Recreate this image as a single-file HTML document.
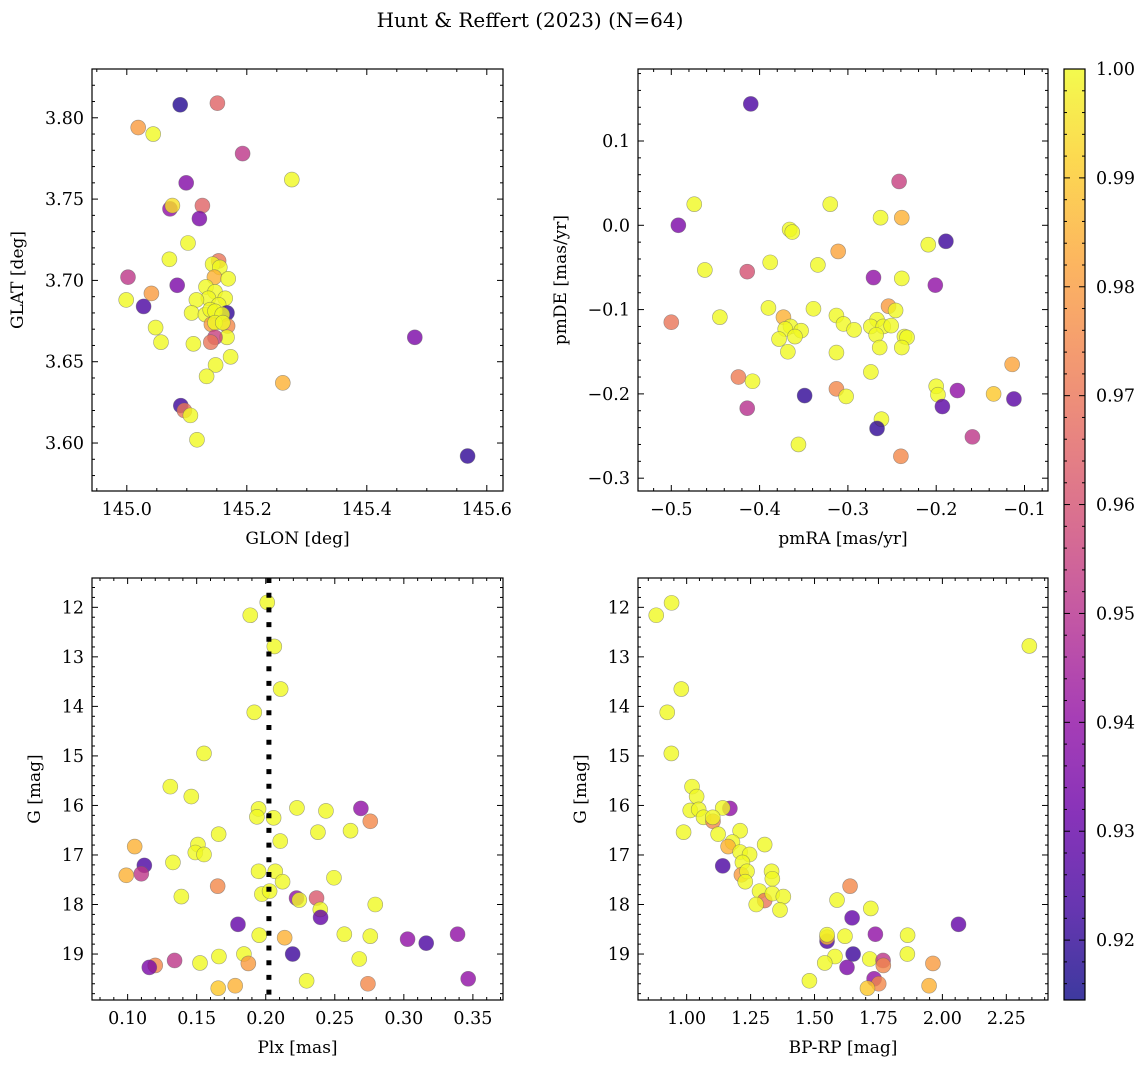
<!DOCTYPE html>
<html><head><meta charset="utf-8">
<style>
html,body{margin:0;padding:0;background:#fff;}
svg{display:block;font-family:"DejaVu Serif","Liberation Serif",serif;}
</style></head>
<body>
<svg id="fig" width="1148" height="1068" xmlns="http://www.w3.org/2000/svg">
<rect width="1148" height="1068" fill="#fff"/>
<text x="530" y="27" font-size="20" text-anchor="middle">Hunt &amp; Reffert (2023) (N=64)</text>
</svg>
<script>
// ---- data: panel 1 (GLON vs GLAT)
const glon=[145.089,145.151,145.019,145.044,145.193,145.275,145.099,145.072,145.076,145.126,145.121,145.102,145.071,145.153,145.143,145.155,145.146,145.169,145.002,145.084,145.041,144.999,145.132,145.147,145.136,145.164,145.116,145.153,145.028,145.167,145.108,145.131,145.139,145.147,145.159,145.141,145.168,145.147,145.160,145.048,145.167,145.147,145.140,145.057,145.111,145.173,145.148,145.133,145.260,145.090,145.096,145.106,145.117,145.480,145.568];
const glat=[3.808,3.809,3.794,3.790,3.778,3.762,3.760,3.744,3.746,3.746,3.738,3.723,3.713,3.712,3.710,3.708,3.702,3.701,3.702,3.697,3.692,3.688,3.696,3.693,3.689,3.689,3.688,3.685,3.684,3.680,3.680,3.679,3.682,3.681,3.679,3.673,3.672,3.674,3.674,3.671,3.665,3.665,3.662,3.662,3.661,3.653,3.648,3.641,3.637,3.623,3.620,3.617,3.602,3.665,3.592];
const probA=[0.918,0.965,0.98,1,0.952,1,0.937,0.94,0.995,0.965,0.935,1,1,0.97,1,1,0.985,1,0.952,0.935,0.98,1,1,1,1,1,1,1,0.925,0.92,1,1,1,1,1,0.98,0.975,1,1,1,1,0.955,0.97,1,1,1,1,1,0.985,0.922,0.97,1,1,0.935,0.92];
// ---- panel 2 (pmRA vs pmDE)
const pmra=[-0.410,-0.242,-0.474,-0.320,-0.263,-0.239,-0.492,-0.366,-0.363,-0.209,-0.189,-0.311,-0.388,-0.334,-0.462,-0.414,-0.271,-0.239,-0.201,-0.254,-0.246,-0.390,-0.339,-0.373,-0.445,-0.500,-0.313,-0.305,-0.293,-0.267,-0.274,-0.260,-0.251,-0.365,-0.371,-0.353,-0.360,-0.268,-0.236,-0.233,-0.378,-0.264,-0.239,-0.368,-0.313,-0.274,-0.114,-0.424,-0.408,-0.200,-0.198,-0.313,-0.302,-0.349,-0.176,-0.135,-0.112,-0.193,-0.414,-0.262,-0.267,-0.159,-0.356,-0.240];
const pmde=[0.144,0.052,0.025,0.025,0.009,0.009,0.000,-0.005,-0.008,-0.023,-0.019,-0.031,-0.044,-0.047,-0.053,-0.055,-0.062,-0.063,-0.071,-0.096,-0.101,-0.098,-0.099,-0.109,-0.109,-0.115,-0.107,-0.117,-0.124,-0.112,-0.120,-0.120,-0.119,-0.120,-0.123,-0.125,-0.132,-0.130,-0.132,-0.133,-0.135,-0.145,-0.145,-0.150,-0.151,-0.174,-0.165,-0.180,-0.185,-0.191,-0.201,-0.194,-0.203,-0.202,-0.196,-0.200,-0.206,-0.215,-0.217,-0.230,-0.241,-0.251,-0.260,-0.274];
const probB=[0.925,0.955,1,1,1,0.985,0.935,1,1,1,0.922,0.982,1,1,1,0.96,0.94,1,0.94,0.98,1,1,1,0.985,1,0.97,1,1,1,1,1,1,1,1,1,1,1,1,1,1,1,1,1,1,1,1,0.982,0.972,1,1,1,0.975,1,0.92,0.94,0.99,0.928,0.928,0.95,1,0.92,0.952,1,0.975];
// ---- panel 3 (Plx vs G)
const plx=[0.2011,0.1888,0.2062,0.2108,0.1917,0.1553,0.1309,0.1461,0.2689,0.1948,0.2226,0.2436,0.1936,0.2057,0.2757,0.2378,0.2614,0.1659,0.1051,0.2105,0.1509,0.1490,0.1553,0.1121,0.1328,0.1099,0.0990,0.1948,0.2069,0.2122,0.2494,0.1652,0.1389,0.1972,0.2028,0.2223,0.2243,0.2368,0.2395,0.2397,0.2793,0.1799,0.1953,0.2137,0.2569,0.2757,0.3027,0.3162,0.3389,0.2195,0.1842,0.1661,0.2677,0.1340,0.1524,0.1874,0.1200,0.1157,0.3466,0.2296,0.2740,0.1779,0.1656];
const gmagC=[11.90,12.16,12.79,13.65,14.12,14.95,15.62,15.82,16.06,16.07,16.05,16.11,16.23,16.25,16.32,16.54,16.51,16.58,16.83,16.72,16.79,16.95,16.99,17.21,17.15,17.38,17.41,17.33,17.33,17.54,17.46,17.63,17.84,17.79,17.73,17.87,17.91,17.87,18.10,18.26,18.00,18.40,18.62,18.67,18.60,18.64,18.70,18.78,18.60,19.00,19.00,19.05,19.10,19.13,19.18,19.19,19.23,19.27,19.50,19.54,19.60,19.64,19.69];
const probC=[1,1,1,1,1,1,1,1,0.94,1,1,1,1,1,0.975,1,1,1,0.985,1,1,1,1,0.925,1,0.952,0.985,1,1,1,1,0.975,1,1,1,0.94,1,0.962,1,0.93,1,0.93,1,0.985,1,1,0.94,0.925,0.94,0.922,1,1,1,0.952,1,0.98,0.975,0.935,0.94,1,0.975,0.985,0.99];
const plxRef=0.2023;
// ---- panel 4 (BP-RP vs G)
const bprp=[0.881,0.941,2.340,0.979,0.924,0.940,1.021,1.039,1.169,1.141,1.014,1.047,1.066,1.103,1.102,0.988,1.123,1.209,1.179,1.305,1.162,1.209,1.246,1.141,1.218,1.214,1.236,1.229,1.332,1.335,1.285,1.305,1.272,1.335,1.378,1.365,1.639,1.588,1.720,1.647,2.063,1.549,1.549,1.549,1.619,1.738,1.864,1.651,1.580,1.716,1.768,1.769,1.863,1.963,1.540,1.627,1.480,1.733,1.751,1.948,1.707];
const gmagD=[12.16,11.91,12.78,13.65,14.12,14.95,15.62,15.82,16.06,16.05,16.10,16.08,16.24,16.32,16.24,16.54,16.58,16.51,16.74,16.79,16.83,16.94,16.99,17.22,17.15,17.40,17.33,17.54,17.33,17.48,17.73,17.92,18.00,17.78,17.84,18.11,17.63,17.91,18.08,18.27,18.40,18.74,18.66,18.61,18.64,18.60,18.62,19.00,19.05,19.10,19.13,19.23,19.00,19.19,19.18,19.27,19.54,19.50,19.60,19.64,19.69];
const probD=[1,1,1,1,1,1,1,1,0.94,1,1,1,1,0.975,1,1,1,1,1,1,0.985,1,1,0.925,1,0.98,1,1,1,1,1,0.97,1,1,1,1,0.975,1,1,0.93,0.93,0.925,0.985,1,1,0.94,1,0.922,1,1,0.952,0.975,1,0.98,1,0.935,1,0.94,0.975,0.985,0.99];
// colorbar ticks
const cbTicks=[0.92,0.93,0.94,0.95,0.96,0.97,0.98,0.99,1.00];
const vmin=0.9145, vmax=1.0;

const NS="http://www.w3.org/2000/svg";
const svg=document.getElementById('fig');
function mk(tag,attrs,parent){const e=document.createElementNS(NS,tag);for(const k in attrs)e.setAttribute(k,attrs[k]);(parent||svg).appendChild(e);return e;}
const stops=[[0,[13,8,135]],[0.1,[65,4,157]],[0.2,[106,0,168]],[0.3,[143,13,164]],[0.4,[177,42,144]],[0.5,[204,71,120]],[0.6,[225,100,98]],[0.7,[242,132,75]],[0.8,[252,166,54]],[0.9,[252,206,37]],[1,[240,249,33]]];
function plasma(t){t=Math.max(0,Math.min(1,t));for(let i=1;i<stops.length;i++){if(t<=stops[i][0]){const a=stops[i-1],b=stops[i];const f=(t-a[0])/(b[0]-a[0]);const c=a[1].map((v,j)=>Math.round(v+(b[1][j]-v)*f));return `rgb(${c[0]},${c[1]},${c[2]})`;}}return 'rgb(240,249,33)';}
function cmap(p){return plasma((p-vmin)/(vmax-vmin));}
function fmt(v,d){const s=v.toFixed(d);return s.replace('-','\u2212');}
const TF=17.5, LF=17;

function panel(o){
  const g=mk('g',{});
  
  
  const sx=v=>o.x0+(v-o.xmin)/(o.xmax-o.xmin)*(o.x1-o.x0);
  const sy=v=>o.yinv? o.y0+(v-o.ymin)/(o.ymax-o.ymin)*(o.y1-o.y0) : o.y1-(v-o.ymin)/(o.ymax-o.ymin)*(o.y1-o.y0);
  for(let i=0;i<o.xs.length;i++){
    const c=mk('circle',{cx:sx(o.xs[i]),cy:sy(o.ys[i]),r:7.5,fill:cmap(o.ps[i]),'fill-opacity':0.8,stroke:'#666','stroke-opacity':0.6,'stroke-width':0.6},g);
    
    
  }
  if(o.vline!==undefined){
    const l=mk('line',{x1:sx(o.vline),x2:sx(o.vline),y1:o.y0,y2:o.y1,stroke:'#000','stroke-width':5,'stroke-dasharray':'5 9.7'},g);
    
    
  }
  mk('rect',{x:o.x0,y:o.y0,width:o.x1-o.x0,height:o.y1-o.y0,fill:'none',stroke:'#000','stroke-width':1.2},g);
  const eps=1e-9;
  for(let v=Math.ceil(o.xmin/o.xminor-eps)*o.xminor;v<=o.xmax;v+=o.xminor){
    const X=sx(v);const isMaj=Math.abs(v/o.xmajor-Math.round(v/o.xmajor))<1e-6;const L=isMaj?6:3;
    mk('line',{x1:X,x2:X,y1:o.y1,y2:o.y1-L,stroke:'#000','stroke-width':1},g);
    mk('line',{x1:X,x2:X,y1:o.y0,y2:o.y0+L,stroke:'#000','stroke-width':1},g);
    if(isMaj){const t=mk('text',{x:X,y:o.y1+24,'font-size':TF,'text-anchor':'middle'},g);t.textContent=fmt(v,o.xdec);
      }
  }
  for(let v=Math.ceil(o.ymin/o.yminor-eps)*o.yminor;v<=o.ymax;v+=o.yminor){
    const Y=sy(v);const isMaj=Math.abs(v/o.ymajor-Math.round(v/o.ymajor))<1e-6;const L=isMaj?6:3;
    mk('line',{x1:o.x0,x2:o.x0+L,y1:Y,y2:Y,stroke:'#000','stroke-width':1},g);
    mk('line',{x1:o.x1,x2:o.x1-L,y1:Y,y2:Y,stroke:'#000','stroke-width':1},g);
    if(isMaj){const t=mk('text',{x:o.x0-8,y:Y+6,'font-size':TF,'text-anchor':'end'},g);t.textContent=fmt(v,o.ydec);
      }
  }
  const xt=mk('text',{x:(o.x0+o.x1)/2,y:o.y1+53,'font-size':LF,'text-anchor':'middle'},g);xt.textContent=o.xlabel;
  
  const yc=(o.y0+o.y1)/2;
  const yt=mk('text',{x:o.ylx,y:yc,'font-size':LF,'text-anchor':'middle',transform:`rotate(-90 ${o.ylx} ${yc})`},g);yt.textContent=o.ylabel;
  
}
panel({name:'panel-glon-glat',x0:92,x1:503,y0:69,y1:491,xmin:144.942,xmax:145.627,ymin:3.5705,ymax:3.830,xmajor:0.2,xminor:0.05,ymajor:0.05,yminor:0.01,xdec:1,ydec:2,xs:glon,ys:glat,ps:probA,xlabel:'GLON [deg]',ylabel:'GLAT [deg]',ylx:23});
panel({name:'panel-pm',x0:638,x1:1048,y0:69,y1:491,xmin:-0.5377,xmax:-0.0734,ymin:-0.3152,ymax:0.1854,xmajor:0.1,xminor:0.02,ymajor:0.1,yminor:0.02,xdec:1,ydec:1,xs:pmra,ys:pmde,ps:probB,xlabel:'pmRA [mas/yr]',ylabel:'pmDE [mas/yr]',ylx:566});
panel({name:'panel-plx-g',x0:92,x1:503,y0:578,y1:1000,xmin:0.0742,xmax:0.3718,ymin:11.408,ymax:19.928,yinv:true,xmajor:0.05,xminor:0.01,ymajor:1,yminor:0.2,xdec:2,ydec:0,xs:plx,ys:gmagC,ps:probC,vline:plxRef,xlabel:'Plx [mas]',ylabel:'G [mag]',ylx:40});
panel({name:'panel-cmd',x0:638,x1:1048,y0:578,y1:1000,xmin:0.8097,xmax:2.413,ymin:11.408,ymax:19.928,yinv:true,xmajor:0.25,xminor:0.05,ymajor:1,yminor:0.2,xdec:2,ydec:0,xs:bprp,ys:gmagD,ps:probD,xlabel:'BP-RP [mag]',ylabel:'G [mag]',ylx:586});

const cb=mk('g',{});


const defs=mk('defs',{},cb);
const lg=mk('linearGradient',{id:'pl',x1:0,y1:1,x2:0,y2:0},defs);
for(let i=0;i<=20;i++){mk('stop',{offset:i/20,'stop-color':plasma(i/20)},lg);}
const cx0=1064,cx1=1085,cy0=69,cy1=1000;
mk('rect',{x:cx0,y:cy0,width:cx1-cx0,height:cy1-cy0,fill:'url(#pl)','fill-opacity':0.8},cb);
mk('rect',{x:cx0,y:cy0,width:cx1-cx0,height:cy1-cy0,fill:'none',stroke:'#000','stroke-width':1.2},cb);
const cby=v=>cy1-(v-vmin)/(vmax-vmin)*(cy1-cy0);
for(let k=0;k*0.002+0.914<=1.0001;k++){
  const v=0.914+k*0.002; if(v<vmin) continue;
  const Y=cby(v); const maj=(k%5)===3; const L=maj?6:3;
  mk('line',{x1:cx1,x2:cx1-L,y1:Y,y2:Y,stroke:'#000','stroke-width':1},cb);
  mk('line',{x1:cx0,x2:cx0+L,y1:Y,y2:Y,stroke:'#000','stroke-width':1},cb);
}
cbTicks.forEach(v=>{
  const t=mk('text',{x:1096,y:cby(v)+6,'font-size':TF},cb);
  t.textContent=v.toFixed(2);
  
  
});
</script>
</body></html>
